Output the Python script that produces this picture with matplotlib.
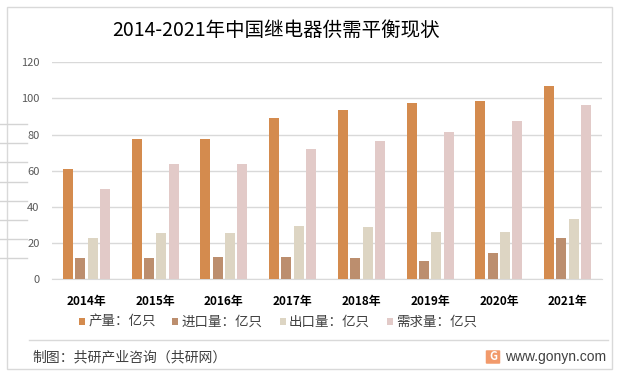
import matplotlib
matplotlib.use('Agg')
import matplotlib.pyplot as plt
from matplotlib.patches import Rectangle, FancyBboxPatch
from matplotlib.lines import Line2D
import numpy as np

plt.rcParams['font.family'] = ['Noto Sans CJK SC', 'DejaVu Sans']

years = ['2014年', '2015年', '2016年', '2017年', '2018年', '2019年', '2020年', '2021年']
production = [61.0, 77.6, 77.6, 89.2, 93.6, 97.5, 98.6, 106.9]
imports = [11.8, 11.8, 12.4, 12.4, 11.8, 10.1, 14.6, 22.9]
exports = [22.9, 25.6, 25.6, 29.5, 28.9, 26.2, 26.2, 33.4]
demand = [50.0, 63.8, 63.8, 72.1, 76.5, 81.5, 87.6, 96.4]

series_names = ['产量：亿只', '进口量：亿只', '出口量：亿只', '需求量：亿只']
colors = ['#D48B4E', '#BC8E6E', '#DDD5C3', '#E2CAC8']

W, H = 619, 374
fig = plt.figure(figsize=(W / 100, H / 100), dpi=100)

def fx(px):
    return px / W

def fy(py):
    return (H - py) / H

# outer frame and stray lines on the left
fig.patches.append(Rectangle((fx(7), fy(369)), fx(605), (369 - 7) / H,
                             transform=fig.transFigure, fill=False,
                             edgecolor='#D9D9D9', linewidth=1))
for py in [124, 143, 162.5, 181.7, 200.7, 220, 239, 257.7]:
    fig.lines.append(Line2D([0, fx(27)], [fy(py), fy(py)], transform=fig.transFigure,
                            color='#D4D4D4', linewidth=1))
fig.lines.append(Line2D([fx(29), fx(608)], [fy(340), fy(340)], transform=fig.transFigure,
                        color='#D9D9D9', linewidth=1))

ax = fig.add_axes([fx(52), fy(279.3), 550 / W, 217 / H])

x = np.arange(len(years))
step = 0.179
width = 0.1455
all_series = [production, imports, exports, demand]
for i, (vals, name, c) in enumerate(zip(all_series, series_names, colors)):
    ax.bar(x + (i - 1.5) * step, vals, width=width, color=c, label=name, zorder=3)

ax.set_xlim(-0.5, len(years) - 0.5)
ax.set_ylim(0, 120)
ax.set_yticks(range(0, 121, 20))
ax.set_xticks(x)
ax.set_xticklabels(years, fontsize=8.5, fontweight='bold', color='#000000')
ax.tick_params(axis='x', length=0, pad=11)
ax.tick_params(axis='y', length=0, pad=9, labelsize=8, labelcolor='#595959')
ax.grid(axis='y', color='#D9D9D9', linewidth=1, zorder=0)
for s in ['top', 'right', 'left']:
    ax.spines[s].set_visible(False)
ax.spines['bottom'].set_color('#D9D9D9')
ax.set_facecolor('none')

fig.legend(loc='center', bbox_to_anchor=(fx(278), fy(322)), ncol=4, frameon=False,
           fontsize=9.7, handlelength=0.45, handleheight=0.45, handletextpad=0.25,
           columnspacing=1.25, labelcolor='#404040')

fig.text(fx(112), fy(30), '2014-2021年中国继电器供需平衡现状', fontsize=14,
         color='#000000', va='center', ha='left')
fig.text(fx(32), fy(357), '制图：共研产业咨询（共研网）', fontsize=10,
         color='#404040', va='center', ha='left')
fig.text(fx(505), fy(357), 'www.gonyn.com', fontsize=10, family='Liberation Sans',
         color='#404040', va='center', ha='left')

# small logo
fig.patches.append(FancyBboxPatch((fx(487), fy(363)), fx(12), 12 / H,
                                  boxstyle='round,pad=0.002', transform=fig.transFigure,
                                  facecolor='#F29A6B', edgecolor='none'))
fig.text(fx(493), fy(356.5), 'G', fontsize=8, fontweight='bold', color='white',
         ha='center', va='center')

fig.savefig('out.png', dpi=100)
